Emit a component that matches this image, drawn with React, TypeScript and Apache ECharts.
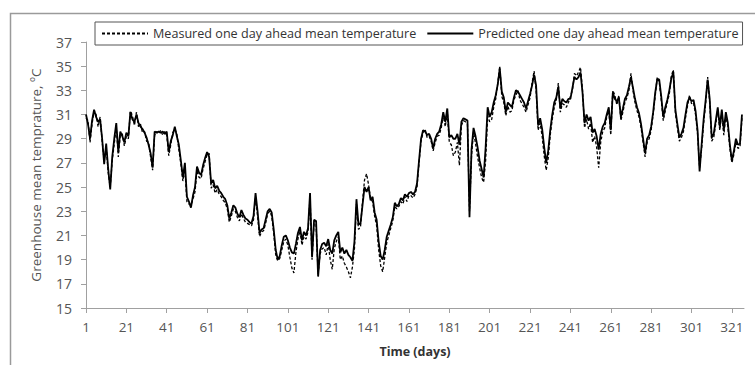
import React, { useEffect, useRef } from "react";
import * as echarts from "echarts";

const days: string[] = Array.from({ length: 327 }, (_, i) => String(i + 1));

const predicted: number[] = [
  31.0, 30.2, 29.0, 30.5, 31.4, 30.8, 30.4, 30.6, 29.0, 26.9,
  28.6, 26.5, 24.8, 27.5, 29.0, 30.3, 27.9, 29.6, 29.2, 28.7,
  29.5, 29.2, 31.2, 30.6, 30.4, 31.0, 30.3, 30.0, 29.8, 29.5,
  29.1, 28.5, 27.8, 26.6, 29.6, 29.5, 29.6, 29.5, 29.6, 29.4,
  29.6, 27.9, 28.8, 29.3, 30.0, 29.2, 28.5, 27.2, 25.8, 27.0,
  24.2, 23.8, 23.3, 24.3, 25.0, 26.7, 26.2, 26.0, 26.8, 27.4,
  27.9, 27.5, 25.3, 25.6, 24.9, 25.1, 24.7, 24.5, 24.2, 24.0,
  23.5, 22.4, 22.9, 23.5, 23.3, 22.8, 22.5, 23.1, 22.7, 22.4,
  22.3, 22.1, 22.0, 22.6, 24.5, 23.0, 21.2, 21.5, 21.6, 22.3,
  23.0, 23.2, 22.9, 21.5, 19.8, 19.0, 19.3, 20.2, 20.9, 21.0,
  20.6, 20.0, 19.6, 19.5, 20.3, 21.2, 21.7, 20.6, 21.3, 21.0,
  21.6, 24.5, 19.2, 22.3, 22.2, 17.6, 19.8, 20.3, 20.4, 20.1,
  20.7, 19.8, 19.5, 20.6, 21.0, 21.3, 19.6, 20.0, 19.5, 19.8,
  19.4, 19.2, 18.9, 20.5, 24.0, 21.9, 22.0, 23.5, 25.0, 24.6,
  25.0, 23.9, 24.2, 22.9, 22.3, 20.5, 19.3, 19.0, 19.8, 20.9,
  21.4, 21.9, 22.5, 23.7, 23.4, 23.6, 24.1, 23.9, 24.4, 24.2,
  24.5, 24.6, 24.4, 24.6, 25.3, 27.2, 29.0, 29.7, 29.6, 29.3,
  29.4, 29.0, 28.2, 29.0, 29.4, 29.6, 30.2, 31.2, 30.4, 31.5,
  29.1, 29.3, 29.0, 29.0, 29.4, 28.5, 30.4, 30.7, 30.6, 30.5,
  22.5, 28.1, 29.9, 29.2, 28.3, 27.2, 26.5, 25.8, 28.3, 31.6,
  30.8, 31.2, 32.0, 32.6, 33.5, 34.8, 32.9, 32.4, 31.2, 32.0,
  31.8, 31.6, 32.4, 33.0, 32.9, 32.6, 32.3, 32.0, 31.5, 32.1,
  32.7, 33.4, 34.3, 33.4, 30.1, 30.7, 29.8, 28.3, 27.0, 28.0,
  29.7, 31.0, 32.0, 32.4, 33.3, 31.5, 32.3, 32.1, 32.0, 32.3,
  32.3, 33.2, 34.1, 33.9, 34.1, 34.5, 32.8, 30.3, 31.0, 30.5,
  30.8, 29.5, 29.8, 29.2, 28.1, 29.4, 30.0, 30.3, 31.0, 31.6,
  29.7, 32.8, 32.3, 32.1, 32.4, 30.8, 31.5, 32.3, 32.6, 33.3,
  34.1, 33.2, 32.3, 31.6, 31.1, 30.2, 29.0, 27.8, 29.0, 29.3,
  30.0, 31.2, 32.8, 33.9, 33.9, 32.5, 30.8, 31.6, 32.2, 33.0,
  34.0, 34.5, 31.4, 30.2, 29.1, 29.4, 29.9, 31.0, 32.0, 32.4,
  32.1, 32.2, 31.3, 29.7, 26.3, 28.5, 30.6, 32.2, 33.9, 32.3,
  29.1, 29.4, 30.5, 31.6, 30.0, 31.4, 29.7, 31.2, 30.3, 28.5,
  27.2, 28.0, 29.0, 28.5, 28.6, 31.0,
];

const measured: number[] = [
  30.7, 30.5, 28.7, 30.2, 31.3, 31.0, 30.0, 30.8, 28.8, 27.2,
  28.3, 26.2, 25.0, 27.2, 28.6, 30.0, 27.5, 29.3, 29.4, 28.4,
  29.2, 29.0, 31.3, 30.9, 30.1, 31.2, 30.0, 30.2, 29.5, 29.6,
  28.8, 28.7, 27.5, 26.4, 29.3, 29.6, 29.4, 29.7, 29.3, 29.6,
  29.3, 27.6, 28.5, 29.5, 29.8, 29.4, 28.1, 26.9, 25.5, 26.5,
  23.8, 23.6, 23.5, 24.0, 24.6, 26.4, 25.8, 25.7, 26.5, 27.1,
  27.7, 27.8, 24.9, 25.2, 24.5, 24.8, 24.4, 24.2, 23.9, 23.7,
  23.2, 22.1, 22.6, 23.2, 23.0, 22.5, 22.2, 22.8, 22.4, 22.1,
  22.0, 21.9, 21.8, 22.3, 24.2, 22.6, 20.9, 21.3, 21.4, 22.0,
  22.8, 23.0, 22.6, 21.2, 19.4, 18.9, 19.1, 19.8, 20.5, 20.7,
  20.2, 19.2, 18.3, 17.9, 19.6, 20.7, 21.4, 20.2, 20.9, 20.7,
  21.3, 24.2, 19.0, 22.0, 21.9, 17.8, 19.5, 19.9, 20.0, 19.4,
  20.3, 19.0, 18.2, 19.9, 20.5, 20.9, 19.0, 19.3, 18.7, 18.4,
  18.0, 17.5, 18.4, 19.9, 23.6, 21.5, 21.7, 23.8, 25.6, 26.1,
  25.2, 24.0, 23.8, 22.6, 21.8, 19.8, 18.5, 18.0, 19.2, 20.4,
  21.0, 21.6, 22.2, 23.4, 23.2, 23.4, 23.8, 23.6, 24.2, 23.8,
  24.3, 24.3, 24.1, 24.4, 25.0, 27.0, 28.8, 29.5, 29.8, 29.1,
  29.2, 28.8, 28.0, 28.7, 29.2, 29.3, 29.9, 30.9, 30.0, 31.2,
  28.7, 28.5, 27.6, 27.9, 28.7, 26.8, 30.1, 30.5, 30.4, 30.2,
  23.0, 27.6, 29.6, 28.6, 27.5, 26.6, 25.8, 25.4, 27.2, 30.9,
  30.4, 30.6, 31.6, 32.3, 33.6, 35.0, 32.5, 32.0, 30.9, 31.7,
  31.2, 31.3, 32.2, 32.6, 33.0, 32.2, 31.9, 31.6, 31.2, 31.8,
  32.4, 33.6, 34.6, 33.0, 29.7, 30.3, 29.2, 27.6, 26.4, 27.4,
  29.3, 30.6, 31.6, 32.2, 33.6, 31.2, 31.9, 31.8, 31.6, 32.0,
  32.5, 33.0, 34.4, 34.2, 34.5, 34.9, 33.0, 29.9, 30.6, 29.8,
  30.3, 28.7, 29.2, 28.3, 26.6, 28.7, 29.6, 29.9, 30.8, 31.3,
  29.3, 33.0, 32.6, 31.8, 32.6, 30.5, 31.2, 32.0, 32.4, 33.0,
  34.4, 33.0, 32.0, 31.3, 30.8, 29.9, 28.7, 27.5, 28.7, 29.0,
  29.7, 31.0, 32.5, 34.1, 33.7, 32.2, 30.5, 31.3, 32.0, 32.7,
  34.2, 34.7, 31.1, 29.9, 28.8, 29.1, 29.6, 30.7, 31.7, 32.6,
  31.9, 32.0, 31.0, 29.4, 26.6, 28.2, 30.3, 31.9, 34.1, 32.0,
  28.8, 29.1, 30.2, 31.4, 29.7, 31.1, 29.3, 30.9, 30.0, 28.2,
  27.0, 27.7, 28.7, 28.2, 28.3, 30.7,
];

const seriesNames = [
  "Measured one day ahead mean temperature",
  "Predicted one day ahead mean temperature",
];

export default function App() {
  const ref = useRef<HTMLDivElement>(null);
  useEffect(() => {
    if (!ref.current) return;
    const chart = echarts.init(ref.current, null, { renderer: "svg" });
    const font = "'Open Sans', sans-serif";
    chart.setOption({
      animation: false,
      backgroundColor: "#ffffff",
      graphic: [
        {
          type: "rect",
          shape: { x: 10.5, y: 13.5, width: 900, height: 500 },
          style: { fill: "none", stroke: "#9a9a9a", lineWidth: 1.5 },
          silent: true,
        },
      ],
      legend: {
        left: 95,
        top: 22,
        width: 660,
        padding: [5, 4, 5, 6],
        borderColor: "#555",
        borderWidth: 1,
        itemWidth: 46,
        itemHeight: 10,
        itemGap: 10,
        itemStyle: { opacity: 0 },
        data: seriesNames,
        textStyle: { fontFamily: font, fontSize: 12.6, color: "#333" },
      },
      grid: { left: 86, right: 11, top: 42, bottom: 57 },
      xAxis: {
        type: "category",
        data: days,
        boundaryGap: false,
        name: "Time (days)",
        nameLocation: "middle",
        nameGap: 37,
        nameTextStyle: { fontFamily: font, fontSize: 12.5, fontWeight: "bold", color: "#333" },
        axisLine: { lineStyle: { color: "#a0a0a0", width: 1 } },
        axisTick: { interval: 19, length: 5, lineStyle: { color: "#a0a0a0" } },
        axisLabel: { interval: 19, fontFamily: font, fontSize: 13.5, color: "#555", margin: 12 },
        splitLine: { show: false },
      },
      yAxis: {
        type: "value",
        min: 15,
        max: 37,
        interval: 2,
        name: "Greenhouse mean temprature, ºC",
        nameLocation: "middle",
        nameGap: 43,
        nameRotate: 90,
        nameTextStyle: { fontFamily: font, fontSize: 13.5, color: "#555" },
        axisLine: { show: true, lineStyle: { color: "#a0a0a0", width: 1 } },
        axisTick: { show: true, length: 5, lineStyle: { color: "#a0a0a0" } },
        axisLabel: { fontFamily: font, fontSize: 14, color: "#555", margin: 14 },
        splitLine: { show: false },
      },
      series: [
        {
          name: seriesNames[0],
          type: "line",
          data: measured,
          symbol: "none",
          lineStyle: { color: "#000", width: 1.3, type: [3, 2] },
          itemStyle: { color: "#000" },
          z: 2,
        },
        {
          name: seriesNames[1],
          type: "line",
          data: predicted,
          symbol: "none",
          lineStyle: { color: "#000", width: 1.8, type: "solid" },
          itemStyle: { color: "#000" },
          z: 3,
        },
      ],
    });
    return () => chart.dispose();
  }, []);
  return (
    <div
      ref={ref}
      style={{ position: "fixed", left: 0, top: 0, width: 755, height: 365, background: "#fff" }}
    />
  );
}
